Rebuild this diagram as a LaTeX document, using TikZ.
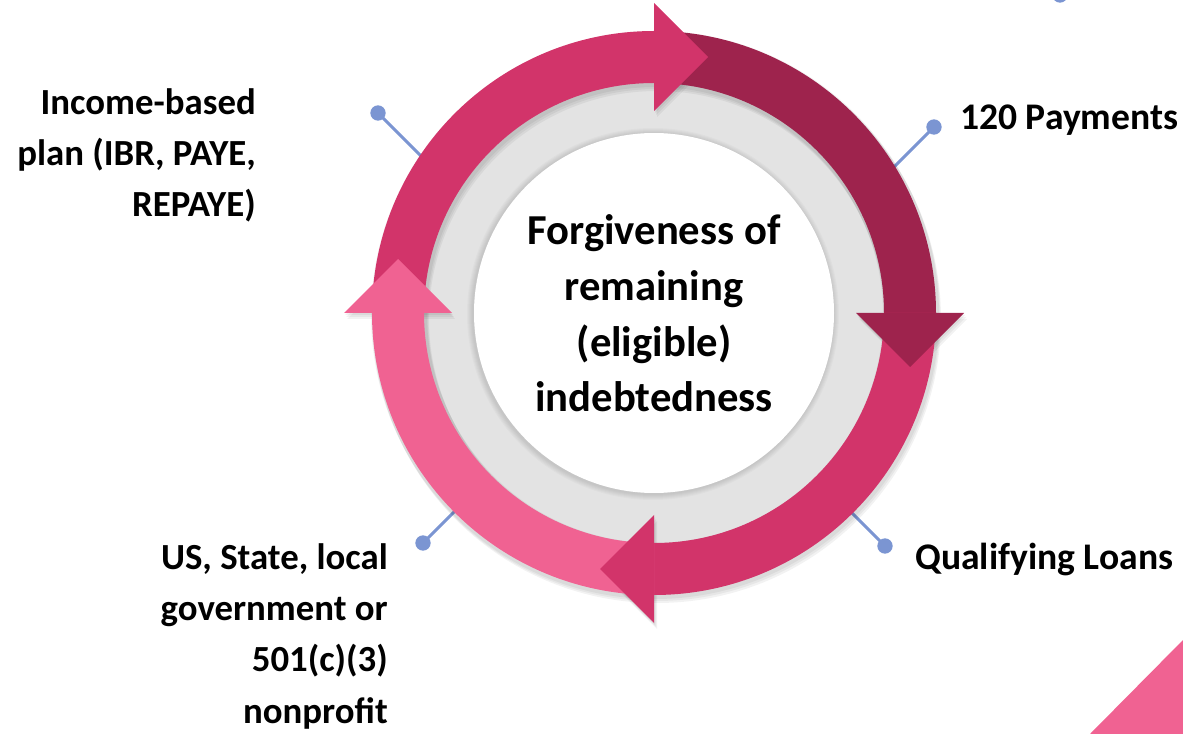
\documentclass[tikz,border=0pt]{standalone}
\usepackage{fontspec}
\setmainfont{Carlito}
\usetikzlibrary{calc}
\definecolor{crimson}{HTML}{D2346A}
\definecolor{darkrose}{HTML}{9E234D}
\definecolor{lightrose}{HTML}{F06292}
\definecolor{ringgray}{HTML}{E3E3E3}
\definecolor{connblue}{HTML}{7B95D2}
\begin{document}
\begin{tikzpicture}[x=0.75pt,y=-0.75pt,
  dot/.style={circle, fill=connblue, inner sep=0pt, minimum size=11.5pt},
  conn/.style={draw=connblue, line width=2.2pt},
  lbl/.style={font=\bfseries\fontsize{28.2}{38.3}\selectfont, inner sep=0pt},
  lblb/.style={font=\bfseries\fontsize{27.6}{38.3}\selectfont, inner sep=0pt, align=right},
  ctr/.style={font=\bfseries\fontsize{32}{42}\selectfont, align=center, inner sep=0pt}]
\useasboundingbox (0,0) rectangle (1183,734);

% corner decorations
\fill[lightrose] (1183,640) -- (1183,734) -- (1090,734) -- cycle;
\node[dot] (d0) at (1060,-5) {};

% connectors (their inner ends hide under the ring)
\node[dot] (d1) at (378,113) {};
\node[dot] (d2) at (934,127) {};
\node[dot] (d3) at (885,546) {};
\node[dot] (d4) at (423,543) {};
\coordinate (e1) at (458,193);
\coordinate (e2) at (854,207);
\coordinate (e3) at (805,466);
\coordinate (e4) at (503,463);
\draw[conn] (d1.center) -- (e1);
\draw[conn] (d2.center) -- (e2);
\draw[conn] (d3.center) -- (e3);
\draw[conn] (d4.center) -- (e4);

\begin{scope}[shift={(654,313)}, y=0.75pt]
  \fill[ringgray] (0,0) circle (242);
  % soft shadow of the white disc
  \foreach \k in {1,...,6}{
    \fill[black, opacity=0.018] (-1,-1) circle (180+\k);
  }
  \fill[white] (0,0) circle (180);
  % soft shadow of the arrow ring
  \foreach \k in {2,4,6}{
    \begin{scope}[shift={(\k*0.5,-\k)}]
      \fill[black, opacity=0.05, even odd rule] (0,0) circle (284) (0,0) circle (228);
      \foreach \s in {180,90,0,-90}{
        \pgfmathsetmacro\e{\s-90}
        \fill[black, opacity=0.05] (\e:202) -- (\e:310) -- ($(\e:256)+(\e-90:54)$) -- cycle;
      }
    \end{scope}
  }
  % arrow bodies
  \foreach \s/\c in {180/crimson,90/darkrose,0/crimson,-90/lightrose}{
    \fill[\c] (\s:282) arc[start angle=\s, end angle=\s-90, radius=282]
      -- (\s-90:230) arc[start angle=\s-90, end angle=\s, radius=230] -- cycle;
  }
  % arrow heads
  \foreach \s/\c in {180/crimson,90/darkrose,0/crimson,-90/lightrose}{
    \pgfmathsetmacro\e{\s-90}
    \fill[\c] (\e:202) -- (\e:310) -- ($(\e:256)+(\e-90:54)$) -- cycle;
  }
\end{scope}

% texts (base anchor = baseline of the last line)
\node[ctr, anchor=base] (c) at (654,412) {Forgiveness of\\remaining\\(eligible)\\indebtedness};
\node[lblb, anchor=base east] (t1) at (256,217) {Income-based\\plan (IBR, PAYE,\\REPAYE)};
\node[lbl, anchor=base west] (t2) at (960,130) {120 Payments};
\node[lbl, anchor=base west] (t3) at (915,570) {Qualifying Loans};
\node[lblb, anchor=base east] (t4) at (388,723) {US, State, local\\government or\\501(c)(3)\\nonprofit};
\end{tikzpicture}
\end{document}
